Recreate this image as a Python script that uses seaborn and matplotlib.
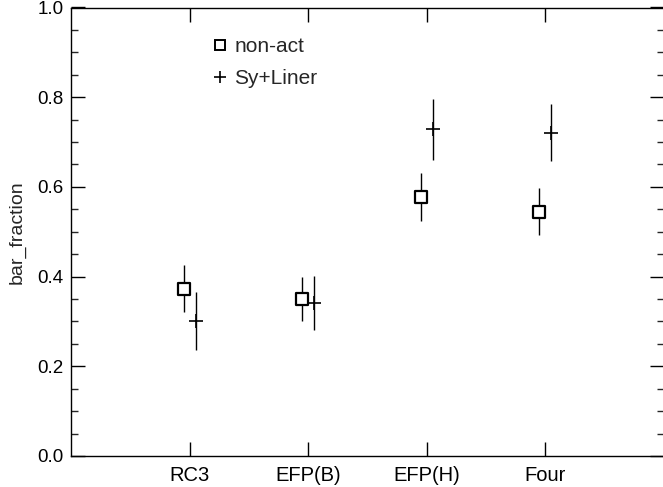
import numpy as np
import pandas as pd
import matplotlib
matplotlib.use("Agg")
import matplotlib.pyplot as plt
import seaborn as sns
from matplotlib.lines import Line2D
from matplotlib.ticker import MultipleLocator, FormatStrFormatter

categories = ["RC3", "EFP(B)", "EFP(H)", "Four"]
nonact_frac = [0.373, 0.350, 0.578, 0.545]
nonact_err = [0.052, 0.050, 0.054, 0.053]
syliner_frac = [0.301, 0.341, 0.728, 0.721]
syliner_err = [0.065, 0.061, 0.067, 0.064]

sns.set_style("ticks")
plt.rcParams['font.family'] = ['Liberation Sans', 'DejaVu Sans']

fig = plt.figure(figsize=(6.63, 4.87), dpi=100)
ax = fig.add_axes([71/663, 31/487, 593/663, 448.5/487])

pos = np.arange(1, len(categories) + 1)
off = 0.05
df = pd.DataFrame({
    "x": np.concatenate([pos - off, pos + off]),
    "y": nonact_frac + syliner_frac,
    "err": nonact_err + syliner_err,
    "group": ["non-act"] * 4 + ["Sy+Liner"] * 4,
})

for g, sub in df.groupby("group"):
    ax.errorbar(sub["x"], sub["y"], yerr=sub["err"], fmt="none",
                ecolor="black", elinewidth=1.0, capsize=0, zorder=2)

sub = df[df.group == "non-act"]
sns.scatterplot(x=sub["x"], y=sub["y"], marker="s", s=70, facecolor="white",
                edgecolor="black", linewidth=1.6, ax=ax, zorder=3)
sub = df[df.group == "Sy+Liner"]
sns.scatterplot(x=sub["x"], y=sub["y"], marker="+", s=110, color="black",
                linewidth=1.2, ax=ax, zorder=3)

ax.set_xlim(0, 5)
ax.set_ylim(0, 1.0)
ax.set_xticks(pos)
ax.set_xticklabels(categories)
ax.yaxis.set_major_locator(MultipleLocator(0.2))
ax.yaxis.set_minor_locator(MultipleLocator(0.05))
ax.yaxis.set_major_formatter(FormatStrFormatter("%.1f"))
ax.tick_params(axis="both", which="major", direction="in", length=10, width=1,
               top=True, right=True, color="black", labelcolor="black")
ax.tick_params(axis="y", which="minor", direction="in", length=5, width=1,
               right=True, left=True)
ax.tick_params(axis="x", which="major", pad=7, labelsize=14.5)
ax.tick_params(axis="y", which="major", pad=5.5, labelsize=13.5)
for s in ax.spines.values():
    s.set_linewidth(1.0)
    s.set_color("black")
    s.set_visible(True)

ax.set_xlabel("")
ax.set_ylabel("bar_fraction", fontsize=14, labelpad=8)

handles = [
    Line2D([], [], marker="s", linestyle="none", markersize=7,
           markerfacecolor="white", markeredgecolor="black", markeredgewidth=1.4),
    Line2D([], [], marker="+", linestyle="none", markersize=8,
           color="black", markeredgewidth=1.2),
]
ax.legend(handles, ["non-act", "Sy+Liner"], loc="upper left",
          bbox_to_anchor=(0.205, 0.975), frameon=False, fontsize=15,
          handlelength=0.8, handletextpad=0.3, labelspacing=0.6)

fig.savefig("out.png", dpi=100)
